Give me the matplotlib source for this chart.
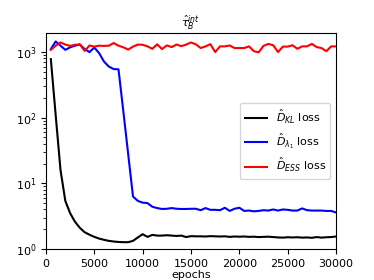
import matplotlib
matplotlib.use("Agg")
import matplotlib.pyplot as plt
import numpy as np

epochs = list(range(500, 30001, 500))

kl_loss = [780, 110, 16, 5.4, 3.5, 2.6, 2.1, 1.8, 1.65, 1.53,
           1.44, 1.38, 1.33, 1.30, 1.28, 1.27, 1.27, 1.33, 1.50, 1.68,
           1.53, 1.64, 1.60, 1.60, 1.62, 1.60, 1.58, 1.60, 1.52, 1.57,
           1.56, 1.56, 1.55, 1.57, 1.56, 1.55, 1.56, 1.53, 1.55, 1.54,
           1.55, 1.53, 1.54, 1.52, 1.53, 1.54, 1.52, 1.50, 1.49, 1.51,
           1.50, 1.51, 1.49, 1.50, 1.48, 1.52, 1.49, 1.51, 1.52, 1.55]

lam_loss = [1110, 1450, 1250, 1080, 1180, 1250, 1300, 1110, 1000, 1170,
            960, 716, 600, 550, 545, 125, 28, 6.3, 5.4, 5.08,
            5.0, 4.4, 4.2, 4.07, 4.1, 4.2, 4.1, 4.07, 4.07, 4.1,
            4.1, 3.9, 4.2, 3.95, 3.95, 3.9, 4.25, 3.8, 4.1, 4.25,
            3.8, 3.85, 3.75, 3.8, 3.9, 3.85, 4.0, 3.85, 4.0, 3.95,
            3.85, 3.85, 4.15, 3.9, 3.85, 3.85, 3.85, 3.8, 3.8, 3.6]

ess_loss = [1080, 1250, 1400, 1300, 1240, 1290, 1310, 1040, 1260, 1210,
            1250, 1240, 1250, 1370, 1250, 1180, 1090, 1210, 1300, 1290,
            1220, 1120, 1310, 1110, 1260, 1190, 1300, 1230, 1300, 1400,
            1310, 1150, 1220, 1320, 1000, 1220, 1220, 1260, 1150, 1150,
            1150, 1220, 1030, 990, 1240, 1330, 1270, 1000, 1210, 1210,
            1270, 1120, 1220, 1220, 1330, 1190, 1150, 1030, 1220, 1220]

labels = [r"$\hat{D}_{KL}$ loss", r"$\hat{D}_{\lambda_1}$ loss", r"$\hat{D}_{ESS}$ loss"]

plt.rcParams['font.size'] = 8

fig = plt.figure(figsize=(3.74, 2.8), dpi=100)
ax = fig.add_axes([46/374, 1-249/280, (336-46)/374, (249-33)/280])
ax.plot(epochs, kl_loss, color='black', label=labels[0])
ax.plot(epochs, lam_loss, color='blue', label=labels[1])
ax.plot(epochs, ess_loss, color='red', label=labels[2])
ax.set_yscale('log')
ax.set_xlim(0, 30000)
ax.set_ylim(1, 1950)
ax.set_xlabel('epochs', labelpad=1)
ax.set_title(r"$\hat{\tau}_B^{int}$", fontsize=8, pad=2.5)
ax.legend(loc='center right')
fig.savefig('out.png', dpi=100)
